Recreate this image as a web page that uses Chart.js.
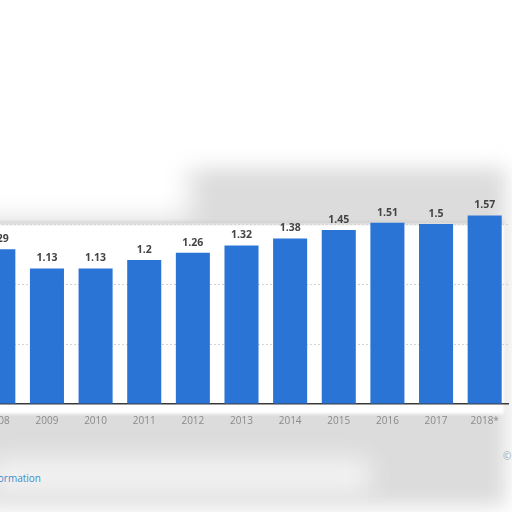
<!DOCTYPE html>
<html>
<head>
<meta charset="utf-8">
<script src="https://cdn.jsdelivr.net/npm/chart.js@4"></script>
<style>
 body { margin: 0; width: 512px; height: 512px; overflow: hidden; background: #fff; position: relative; font-family: "Open Sans", sans-serif; }
 .shade { position: absolute; left: -20px; top: 168px; width: 526px; height: 338px; background: #dcdcdc; filter: blur(10px); }
 .shade2 { position: absolute; left: -40px; top: 140px; width: 230px; height: 80px; background: #fff; filter: blur(14px); }
 .panel { position: absolute; left: -10px; top: 222px; width: 514px; height: 190px; background: #fff; border-top: 2px solid #c4c4c4; filter: blur(1.5px); }
 .low { position: absolute; left: -10px; top: 458px; width: 380px; height: 36px; background: #f2f2f2; filter: blur(12px); }
 .wrap { position: absolute; left: -26px; top: 150px; width: 535px; height: 280px; }
 .info { position: absolute; right: 471px; top: 471px; font-size: 10px; color: #3f8dc8; white-space: nowrap; }
 .copy { position: absolute; left: 503px; top: 449px; font-size: 10px; color: #9aa; }
</style>
</head>
<body>
<div class="shade"></div>
<div class="shade2"></div>
<div class="panel"></div>
<div class="low"></div>
<div class="wrap"><canvas id="barChart"></canvas></div>
<div class="info">Additional Information</div>
<div class="copy">©</div>
<script>
// categories and values
const years = ["2008", "2009", "2010", "2011", "2012", "2013", "2014", "2015", "2016", "2017", "2018*"];
const values = [1.29, 1.13, 1.13, 1.2, 1.26, 1.32, 1.38, 1.45, 1.51, 1.5, 1.57];

// draws the value above each bar
const valueLabels = {
 id: 'valueLabels',
 afterDatasetsDraw(chart) {
  const ctx = chart.ctx;
  ctx.save();
  ctx.font = 'bold 10.5px "Open Sans", sans-serif';
  ctx.fillStyle = '#444';
  ctx.textAlign = 'center';
  ctx.textBaseline = 'bottom';
  chart.getDatasetMeta(0).data.forEach(function (bar, i) {
   ctx.fillText(String(values[i]), bar.x, bar.y - 5);
  });
  ctx.restore();
 }
};

const ctx = document.getElementById('barChart').getContext('2d');
new Chart(ctx, {
 type: 'bar',
 data: {
  labels: years,
  datasets: [{
   data: values,
   backgroundColor: '#2a74d6',
   barPercentage: 0.7,
   categoryPercentage: 1.0
  }]
 },
 options: {
  responsive: true,
  maintainAspectRatio: false,
  animation: false,
  layout: { padding: { top: 14, left: 0, right: 0, bottom: 0 } },
  plugins: { legend: { display: false }, tooltip: { enabled: false } },
  scales: {
   x: {
    grid: { display: false },
    border: { display: true, color: '#3a3a3a', width: 1.5 },
    ticks: { color: '#8a8a8a', font: { size: 10, family: '"Open Sans", sans-serif' }, padding: 3 }
   },
   y: {
    min: 0,
    max: 2,
    afterFit: function (axis) { axis.width = 0; },
    ticks: { display: false, stepSize: 0.5 },
    border: { display: false, dash: [2, 2] },
    grid: {
     color: function (c) { return (c.tick.value > 0 && c.tick.value < 2) ? '#d4d4d4' : 'rgba(0,0,0,0)'; },
     drawTicks: false
    }
   }
  }
 },
 plugins: [valueLabels]
});
</script>
</body>
</html>
